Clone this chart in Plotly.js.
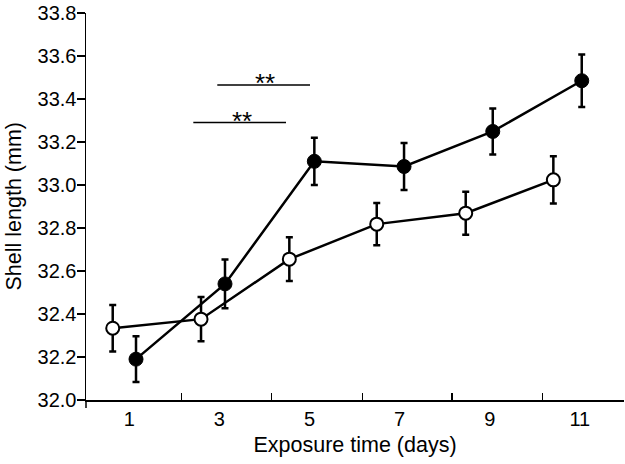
<!DOCTYPE html>
<html>
<head>
<meta charset="utf-8">
<script src="https://cdn.plot.ly/plotly-3.0.1.min.js"></script>
<style>html,body{margin:0;padding:0;background:#fff;}#chart{width:625px;height:464px;}</style>
</head>
<body>
<div id="chart"></div>
<script>
// Tick labels (exposure days) and their positions on the day axis
const dayLabels = ['1', '3', '5', '7', '9', '11'];
const dayTickVals = [1, 3, 5, 7, 9, 11];
// Boundary tick marks between day groups
const boundaryTicks = [2.163, 4.161, 6.181, 8.157, 10.168];

// Filled-circle series
const filledX = [1.149, 3.124, 5.107, 7.098, 9.067, 11.042];
const filledY = [32.19, 32.54, 33.11, 33.086, 33.249, 33.485];
const filledErr = [0.106, 0.113, 0.11, 0.109, 0.107, 0.122];

// Open-circle series
const openX = [0.632, 2.592, 4.552, 6.492, 8.467, 10.412];
const openY = [32.334, 32.376, 32.655, 32.818, 32.869, 33.024];
const openErr = [0.108, 0.103, 0.102, 0.098, 0.10, 0.11];

// Significance brackets
const sigUpper = {x0: 2.953, x1: 5.011, y: 33.465, label: '**', lx: 4.012, ly: 33.475};
const sigLower = {x0: 2.421, x1: 4.478, y: 33.291, label: '**', lx: 3.508, ly: 33.30};

const yTickVals = [32.0, 32.2, 32.4, 32.6, 32.8, 33.0, 33.2, 33.4, 33.6, 33.8];
const yTickText = yTickVals.map(v => v.toFixed(1));

const font = 'Liberation Sans, Arial, sans-serif';

const errStyle = {type: 'data', visible: true, color: '#000', thickness: 2.5, width: 3.5};

const traces = [
  {
    x: openX, y: openY, type: 'scatter', mode: 'lines+markers',
    error_y: Object.assign({array: openErr}, errStyle),
    line: {color: '#000', width: 2.5},
    marker: {symbol: 'circle', size: 13, color: '#fff', line: {color: '#000', width: 2}},
    showlegend: false, cliponaxis: false
  },
  {
    x: filledX, y: filledY, type: 'scatter', mode: 'lines+markers',
    error_y: Object.assign({array: filledErr}, errStyle),
    line: {color: '#000', width: 2.5},
    marker: {symbol: 'circle', size: 14, color: '#000', line: {color: '#000', width: 1}},
    showlegend: false, cliponaxis: false
  }
];

const sigs = [sigUpper, sigLower];
const shapes = sigs.map(s => ({
  type: 'line', xref: 'x', yref: 'y', x0: s.x0, x1: s.x1, y0: s.y, y1: s.y,
  line: {color: '#000', width: 1.5}
}));
// y-axis line continuation below the x-axis
shapes.push({type: 'line', xref: 'paper', yref: 'paper', x0: 0, x1: 0, y0: 0, y1: -8 / 387,
  line: {color: '#000', width: 1.5}});

const annotations = sigs.map(s => ({
  x: s.lx, y: s.ly, xref: 'x', yref: 'y', text: s.label, showarrow: false,
  xanchor: 'center', yanchor: 'middle', font: {family: font, size: 26, color: '#000'}
}));
// y-axis title
annotations.push({
  x: (13 - 86) / 538, y: 0.5, xref: 'paper', yref: 'paper', text: 'Shell length (mm)',
  textangle: -90, showarrow: false, xanchor: 'center', yanchor: 'middle',
  font: {family: font, size: 21.5, color: '#000'}
});

const layout = {
  width: 625, height: 464,
  margin: {l: 86, r: 1, t: 13, b: 64, pad: 0},
  paper_bgcolor: '#fff', plot_bgcolor: '#fff',
  font: {family: font, color: '#000'},
  xaxis: {
    range: [0.039, 11.98], showgrid: false, zeroline: false,
    showline: true, linecolor: '#000', linewidth: 1.5,
    tickmode: 'array', tickvals: dayTickVals, ticktext: dayLabels,
    ticks: '', tickfont: {family: font, size: 20, color: '#000'},
    ticklabelstandoff: 0,
    minor: {tickmode: 'array', tickvals: boundaryTicks, ticks: 'inside', ticklen: 7, tickwidth: 1.5, tickcolor: '#000', showgrid: false},
    title: {text: 'Exposure time (days)', font: {family: font, size: 21.5, color: '#000'}, standoff: 8},
    automargin: false
  },
  yaxis: {
    range: [32.0, 33.8], showgrid: false, zeroline: false,
    showline: true, linecolor: '#000', linewidth: 1.5,
    tickmode: 'array', tickvals: yTickVals, ticktext: yTickText,
    ticks: 'outside', ticklen: 8, tickwidth: 1.5, tickcolor: '#000',
    tickfont: {family: font, size: 20, color: '#000'},
    ticklabelstandoff: -4,
    automargin: false
  },
  shapes: shapes,
  annotations: annotations
};

Plotly.newPlot('chart', traces, layout, {displayModeBar: false, staticPlot: true});
</script>
</body>
</html>
